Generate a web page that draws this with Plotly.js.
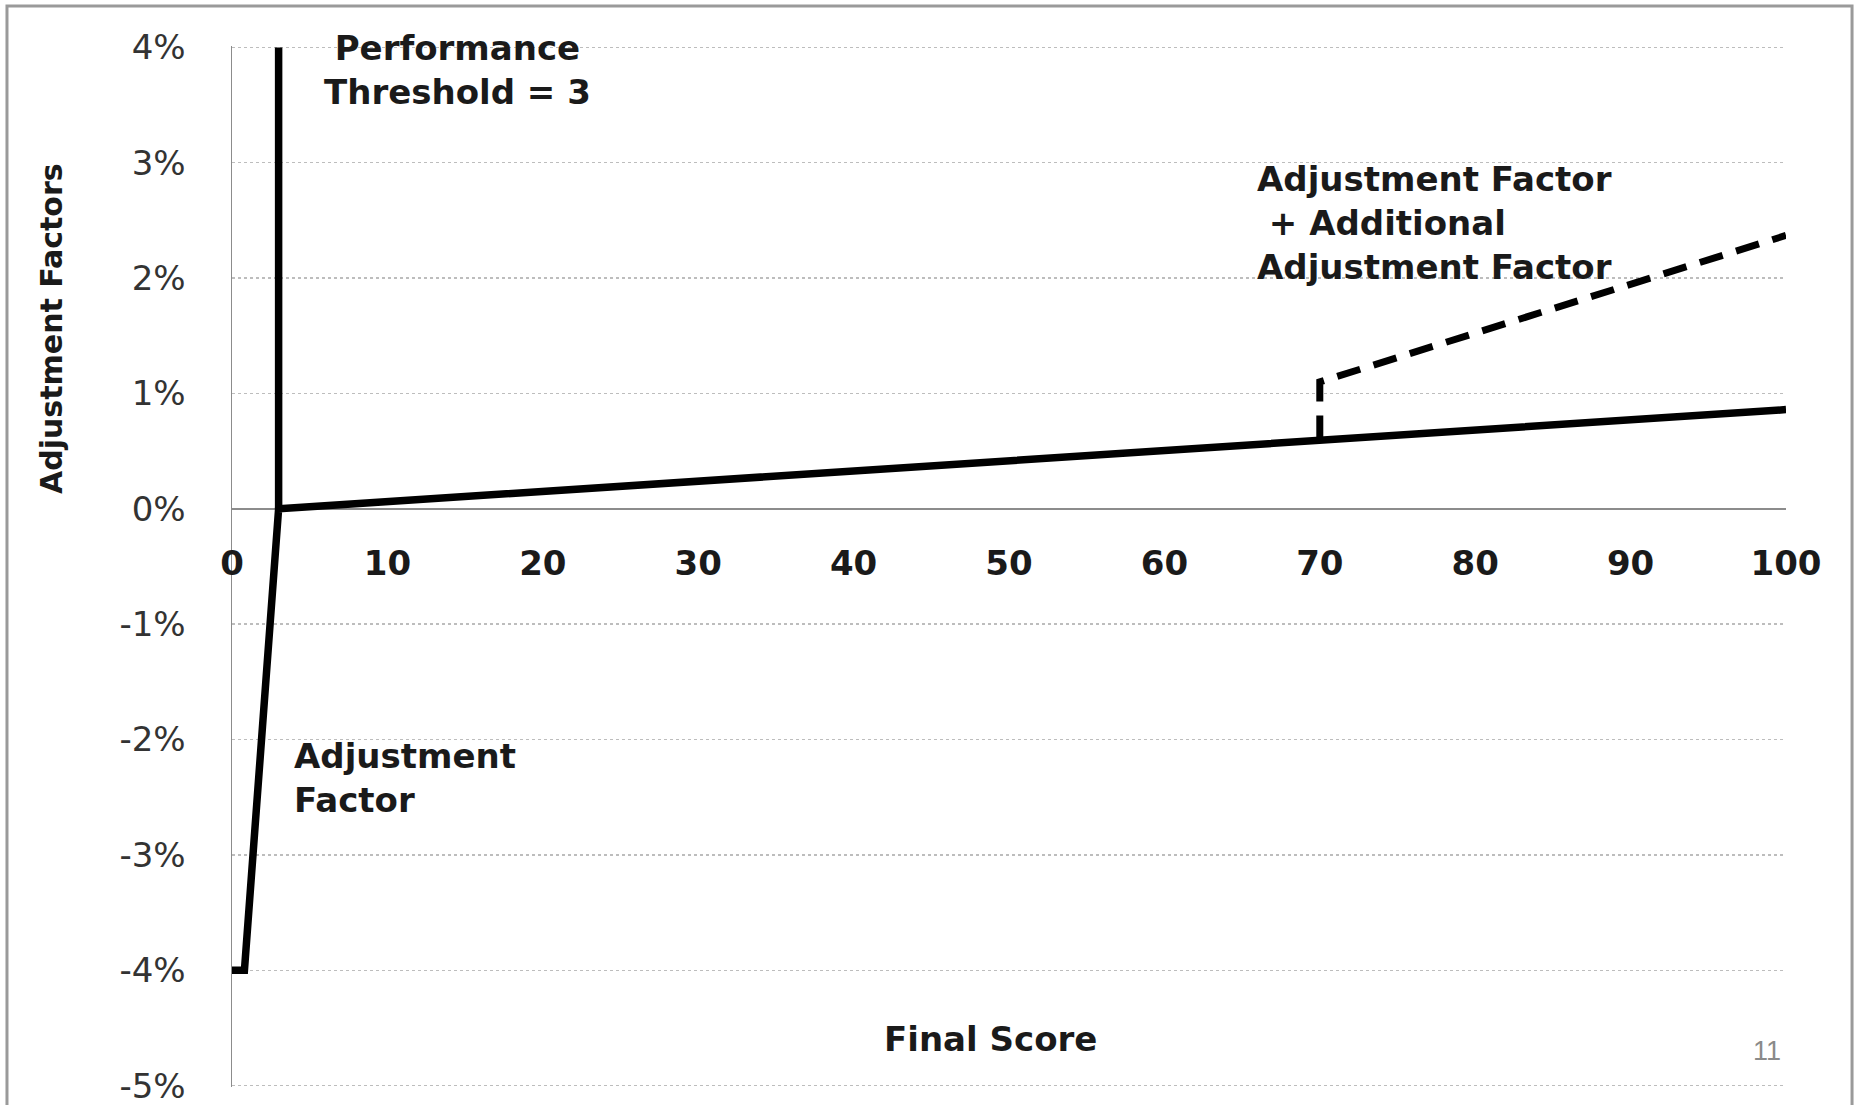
<!DOCTYPE html>
<html>
<head>
<meta charset="utf-8">
<script src="https://cdn.plot.ly/plotly-3.0.1.min.js"></script>
<style>
html,body{margin:0;padding:0;background:#fff;}
#chart{width:1856px;height:1105px;}
</style>
</head>
<body>
<div id="chart"></div>
<script>
// Data
const adjustmentX = [0, 0.8, 3, 100];
const adjustmentY = [-4, -4, 0, 0.86];
const thresholdX = [3, 3];
const thresholdY = [0, 4];
const additionalX = [70, 70, 100];
const additionalY = [0.6, 1.1, 2.37];
const yTickVals = [-5, -4, -3, -2, -1, 0, 1, 2, 3, 4];
const yTickText = ['-5%', '-4%', '-3%', '-2%', '-1%', '0%', '1%', '2%', '3%', '4%'];
const xTickVals = [0, 10, 20, 30, 40, 50, 60, 70, 80, 90, 100];
const xTickText = ['0', '10', '20', '30', '40', '50', '60', '70', '80', '90', '100'];

const traces = [
  {x: adjustmentX, y: adjustmentY, mode: 'lines', line: {color: '#000', width: 7.5}, showlegend: false, hoverinfo: 'skip'},
  {x: thresholdX, y: thresholdY, mode: 'lines', line: {color: '#000', width: 7.5}, showlegend: false, hoverinfo: 'skip'},
  {x: additionalX, y: additionalY, mode: 'lines', line: {color: '#000', width: 7, dash: '24px,14px'}, showlegend: false, hoverinfo: 'skip'}
];

const boldFont = {family: 'DejaVu Sans', size: 34, color: '#1a1a1a', weight: 'bold'};

const layout = {
  width: 1856, height: 1105,
  margin: {l: 232, r: 70, t: 46, b: 18, pad: 0},
  paper_bgcolor: '#fff', plot_bgcolor: '#fff',
  showlegend: false,
  xaxis: {
    range: [0, 100], tickvals: xTickVals, ticktext: xTickText,
    anchor: 'free', position: 5.012/9.024,
    showgrid: false, zeroline: false, showline: false, ticks: '',
    ticklabelstandoff: 31, ticklabeloverflow: 'allow',
    tickfont: {family: 'DejaVu Sans', size: 34, color: '#1a1a1a', weight: 'bold'},
    fixedrange: true
  },
  yaxis: {
    range: [-5.012, 4.012], tickvals: yTickVals, ticktext: yTickText,
    showgrid: true, gridcolor: '#bdbdbd', gridwidth: 1.5, griddash: 'dot',
    zeroline: true, zerolinecolor: '#8c8c8c', zerolinewidth: 1.5,
    showline: true, linecolor: '#8c8c8c', linewidth: 1.5,
    ticks: '', ticklabelstandoff: 38, ticklabeloverflow: 'allow',
    tickfont: {family: 'DejaVu Sans', size: 34, color: '#333'},
    fixedrange: true
  },
  shapes: [
    {type: 'rect', xref: 'paper', yref: 'paper', x0: -0.1448, x1: 1.0425, y0: -0.05, y1: 1.0385,
     line: {color: '#9a9a9a', width: 3}, fillcolor: 'rgba(0,0,0,0)', layer: 'below'}
  ],
  annotations: [
    {xref: 'x', yref: 'y', x: 14.5, y: 3.8, xanchor: 'center', yanchor: 'middle', align: 'center',
     text: 'Performance<br>Threshold = 3', showarrow: false, font: boldFont},
    {xref: 'x', yref: 'y', x: 3.86, y: -2.33, xanchor: 'left', yanchor: 'middle', align: 'left',
     text: 'Adjustment<br>Factor', showarrow: false, font: boldFont},
    {xref: 'x', yref: 'y', x: 65.8, y: 2.48, xanchor: 'left', yanchor: 'middle', align: 'left',
     text: 'Adjustment Factor<br>&nbsp;+ Additional<br>Adjustment Factor', showarrow: false, font: boldFont},
    {xref: 'x', yref: 'y', x: 48.8, y: -4.6, xanchor: 'center', yanchor: 'middle',
     text: 'Final Score', showarrow: false, font: {family: 'DejaVu Sans', size: 34, color: '#1a1a1a', weight: 'bold'}},
    {xref: 'x', yref: 'y', x: 98.8, y: -4.7, xanchor: 'center', yanchor: 'middle',
     text: '11', showarrow: false, font: {family: 'Liberation Sans', size: 27, color: '#8a8a8a'}},
    {xref: 'paper', yref: 'y', x: -0.1165, y: 1.567, xanchor: 'center', yanchor: 'middle', textangle: -90,
     text: 'Adjustment Factors', showarrow: false, font: {family: 'DejaVu Sans', size: 30, color: '#1a1a1a', weight: 'bold'}}
  ]
};

Plotly.newPlot('chart', traces, layout, {displayModeBar: false, staticPlot: true});
</script>
</body>
</html>
